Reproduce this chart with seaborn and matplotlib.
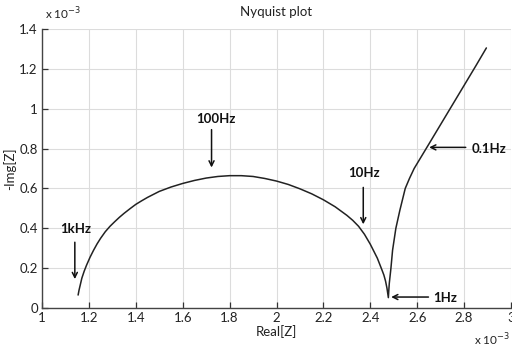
import matplotlib
matplotlib.use("Agg")
import matplotlib.pyplot as plt
import seaborn as sns
import pandas as pd

# Values shown in units of 1e-3 (Ohm), as on the axes
re_arc = [1.154, 1.158, 1.164, 1.17, 1.18, 1.19, 1.205, 1.22, 1.235, 1.25, 1.27, 1.29,
          1.31, 1.33, 1.35, 1.375, 1.40, 1.425, 1.45, 1.50, 1.55, 1.60, 1.65, 1.70,
          1.75, 1.80, 1.85, 1.90, 1.95, 2.00, 2.05, 2.10, 2.15, 2.20, 2.25, 2.30,
          2.325, 2.35, 2.375, 2.40, 2.415, 2.43, 2.44, 2.45, 2.458, 2.465, 2.471, 2.477]
im_arc = [0.065, 0.09, 0.12, 0.15, 0.185, 0.215, 0.255, 0.29, 0.322, 0.35, 0.383, 0.41,
          0.433, 0.455, 0.475, 0.498, 0.52, 0.538, 0.555, 0.585, 0.607, 0.625, 0.64, 0.652,
          0.66, 0.664, 0.664, 0.66, 0.65, 0.637, 0.62, 0.598, 0.573, 0.543, 0.508, 0.465,
          0.44, 0.41, 0.37, 0.32, 0.285, 0.25, 0.22, 0.19, 0.165, 0.135, 0.1, 0.052]
re_tail = [2.479, 2.481, 2.488, 2.495, 2.509, 2.526, 2.549, 2.567, 2.587, 2.65, 2.75, 2.85, 2.895]
im_tail = [0.09, 0.124, 0.2, 0.29, 0.4, 0.49, 0.6, 0.65, 0.70, 0.823, 1.019, 1.215, 1.305]

x_ticks = [1.0, 1.2, 1.4, 1.6, 1.8, 2.0, 2.2, 2.4, 2.6, 2.8, 3.0]
y_ticks = [0.0, 0.2, 0.4, 0.6, 0.8, 1.0, 1.2, 1.4]

freq_labels = ["1kHz", "100Hz", "10Hz", "1Hz", "0.1Hz"]
label_xy = [(1.145, 0.395), (1.743, 0.947), (2.374, 0.676), (2.72, 0.048), (2.905, 0.80)]
arrow_from = [(1.14, 0.33), (1.723, 0.895), (2.370, 0.605), (2.648, 0.055), (2.807, 0.806)]
arrow_to = [(1.14, 0.145), (1.723, 0.705), (2.370, 0.42), (2.489, 0.055), (2.651, 0.806)]

df = pd.DataFrame({"re": re_arc + re_tail, "im": im_arc + im_tail})

sns.set_theme(style="white")
plt.rcParams["font.family"] = ["Lato", "DejaVu Sans"]

fig = plt.figure(figsize=(5.12, 3.5), dpi=100)
ax = fig.add_axes([42 / 512, 42 / 350, 469 / 512, 279 / 350])

sns.lineplot(data=df, x="re", y="im", sort=False, color="#222222", lw=1.1, ax=ax)

ax.set_xlim(1.0, 3.0)
ax.set_ylim(0.0, 1.4)
ax.set_xticks(x_ticks)
ax.set_yticks(y_ticks)
ax.set_xticklabels([f"{v:g}" for v in x_ticks])
ax.set_yticklabels([f"{v:g}" for v in y_ticks])
ax.grid(True, color="#dcdcdc", lw=0.8)
ax.tick_params(direction="in", length=4, width=0.9, color="#333333",
               labelsize=9.5, labelcolor="#222222", pad=3, bottom=True, left=True)
for s in ["top", "right"]:
    ax.spines[s].set_visible(False)
for s in ["left", "bottom"]:
    ax.spines[s].set_color("#444444")
    ax.spines[s].set_linewidth(1.0)

ax.set_xlabel("Real[Z]", fontsize=9.5, color="#222222", labelpad=1)
ax.set_ylabel("-Img[Z]", fontsize=9.5, color="#222222", labelpad=2)
ax.set_title("Nyquist plot", fontsize=9.5, color="#222222", pad=9)

fig.text(45 / 512, 1 - 14 / 350, r"x 10$^{-3}$", fontsize=8.5, color="#222222",
         va="center", ha="left")
fig.text(474 / 512, 1 - 340 / 350, r"x 10$^{-3}$", fontsize=8.5, color="#222222",
         va="center", ha="left")

for lab, lxy, a0, a1 in zip(freq_labels, label_xy, arrow_from, arrow_to):
    ax.text(lxy[0], lxy[1], lab, fontsize=9.5, fontweight="bold", ha="center",
            va="center", color="#111111")
    ax.annotate("", xy=a1, xytext=a0,
                arrowprops=dict(arrowstyle="->", color="#111111", lw=1.1,
                                mutation_scale=9, shrinkA=0, shrinkB=0))

fig.savefig("out.png", dpi=100)
